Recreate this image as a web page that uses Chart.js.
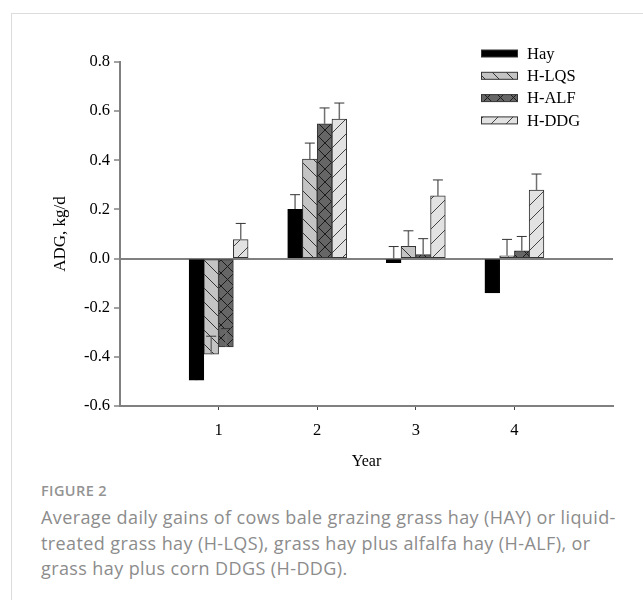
<!DOCTYPE html>
<html>
<head>
<meta charset="utf-8">
<script src="https://cdn.jsdelivr.net/npm/chart.js@4.4.1/dist/chart.umd.min.js"></script>
<style>
html, body { margin: 0; padding: 0; background: #fff; }
body { width: 643px; height: 600px; position: relative; overflow: hidden; }
#frame { position: absolute; left: 11px; top: 13px; right: 0; bottom: 0; border-left: 1px solid #dcdcdc; border-top: 1px solid #dcdcdc; }
#wrap { position: absolute; left: 0; top: 0; width: 643px; height: 480px; }
#fig { position: absolute; left: 41px; top: 481px; font: 600 14.5px 'Open Sans', sans-serif; color: #939393; letter-spacing: .4px; }
#cap { position: absolute; left: 41px; top: 505px; font: 18px/25.5px 'Open Sans', sans-serif; color: #8c8c8c; letter-spacing: .4px; white-space: nowrap; }
</style>
</head>
<body>
<div id="frame"></div>
<div id="wrap"><canvas id="chart"></canvas></div>
<div id="fig">FIGURE 2</div>
<div id="cap">Average daily gains of cows bale grazing grass hay (HAY) or liquid-<br>treated grass hay (H-LQS), grass hay plus alfalfa hay (H-ALF), or<br>grass hay plus corn DDGS (H-DDG).</div>
<script>
'use strict';

const YEARS = [1, 2, 3, 4];
const SERIES = ['Hay', 'H-LQS', 'H-ALF', 'H-DDG'];
const HAY = [-0.495, 0.20, -0.017, -0.14];
const HAY_SE = [0.06, 0.06, 0.066, 0.06];
const LQS = [-0.389, 0.405, 0.05, 0.011];
const LQS_SE = [0.073, 0.065, 0.063, 0.067];
const ALF = [-0.36, 0.548, 0.016, 0.032];
const ALF_SE = [0.075, 0.065, 0.065, 0.058];
const DDG = [0.077, 0.568, 0.255, 0.279];
const DDG_SE = [0.066, 0.065, 0.065, 0.065];
const Y_TICKS = [-0.6, -0.4, -0.2, 0, 0.2, 0.4, 0.6, 0.8];

const SERIF = "'Liberation Serif', 'Times New Roman', serif";

// hatch fills like the SigmaPlot patterns
function hatch(bg, line, kind, size) {
  const c = document.createElement('canvas');
  c.width = c.height = size;
  const g = c.getContext('2d');
  g.fillStyle = bg;
  g.fillRect(0, 0, size, size);
  g.strokeStyle = line;
  g.lineWidth = 1;
  g.beginPath();
  if (kind === 'back' || kind === 'cross') { g.moveTo(0, 0); g.lineTo(size, size); }
  if (kind === 'fwd' || kind === 'cross') { g.moveTo(0, size); g.lineTo(size, 0); }
  g.stroke();
  return g.createPattern(c, 'repeat');
}

const FILLS = [
  '#000000',
  hatch('#c4c4c4', '#333', 'back', 14),
  hatch('#666666', '#1a1a1a', 'cross', 13),
  hatch('#e2e2e2', '#444', 'fwd', 15)
];

function points(vals) {
  return YEARS.map((x, i) => ({ x: x, y: vals[i] }));
}

function drawErrors(chart, behind) {
  const ctx = chart.ctx;
  const y = chart.scales.y;
  chart.data.datasets.forEach((ds, i) => {
    if (!!ds.errBehind !== behind) return;
    const meta = chart.getDatasetMeta(i);
    meta.data.forEach((bar, j) => {
      const v = ds.data[j].y;
      const y0 = y.getPixelForValue(v);
      const y1 = y.getPixelForValue(v + ds.errors[j]);
      ctx.save();
      ctx.strokeStyle = '#707070';
      ctx.lineWidth = 1.5;
      ctx.beginPath(); ctx.moveTo(bar.x, y0); ctx.lineTo(bar.x, y1); ctx.stroke();
      ctx.strokeStyle = '#333';
      ctx.lineWidth = 1;
      ctx.beginPath(); ctx.moveTo(bar.x - 5, y1); ctx.lineTo(bar.x + 5, y1); ctx.stroke();
      ctx.restore();
    });
  });
}

const errorBars = {
  id: 'errorBars',
  beforeDatasetsDraw(chart) { drawErrors(chart, true); },
  afterDatasetsDraw(chart) { drawErrors(chart, false); }
};

const boxLegend = {
  id: 'boxLegend',
  afterDraw(chart) {
    const ctx = chart.ctx;
    ctx.save();
    ctx.font = '16.5px ' + SERIF;
    ctx.textBaseline = 'middle';
    chart.data.datasets.forEach((ds, i) => {
      const cy = 53.5 + i * 22.3;
      ctx.fillStyle = ds.backgroundColor;
      ctx.fillRect(481, cy - 3.5, 37, 7);
      ctx.strokeStyle = '#333';
      ctx.lineWidth = 1;
      ctx.strokeRect(481.5, cy - 3.5, 36, 7);
      ctx.fillStyle = '#000';
      ctx.fillText(ds.label, 527, cy + 1);
    });
    ctx.restore();
  }
};

function bars(i, vals, errs, extra) {
  return Object.assign({
    label: SERIES[i],
    data: points(vals),
    errors: errs,
    backgroundColor: FILLS[i],
    borderColor: i === 0 ? '#000' : '#333',
    borderWidth: 1,
    borderSkipped: false,
    barThickness: 14.75
  }, extra || {});
}

new Chart(document.getElementById('chart'), {
  type: 'bar',
  data: {
    datasets: [
      bars(0, HAY, HAY_SE, { errBehind: true }),
      bars(1, LQS, LQS_SE),
      bars(2, ALF, ALF_SE),
      bars(3, DDG, DDG_SE)
    ]
  },
  options: {
    responsive: true,
    maintainAspectRatio: false,
    animation: false,
    layout: { padding: { top: 62, right: 30, left: 0, bottom: 0 } },
    plugins: { legend: { display: false }, tooltip: { enabled: false } },
    scales: {
      x: {
        type: 'linear', min: 0, max: 5, offset: false,
        afterBuildTicks: s => { s.ticks = YEARS.map(v => ({ value: v })); },
        afterFit: s => { s.height = 74; },
        grid: { display: true, drawOnChartArea: false, drawTicks: true, tickLength: 4, tickColor: '#444', tickWidth: 1, offset: false },
        border: { display: true, color: '#808080', width: 2 },
        ticks: { color: '#000', font: { family: SERIF, size: 16.5 }, padding: 11, callback: v => String(v) },
        title: { display: true, text: 'Year', color: '#000', font: { family: SERIF, size: 16 }, padding: { top: 0, bottom: 9 } }
      },
      y: {
        min: -0.6, max: 0.8,
        afterBuildTicks: s => { s.ticks = Y_TICKS.map(v => ({ value: v })); },
        afterFit: s => { s.width = 120; },
        grid: {
          color: c => (c.tick && c.tick.value === 0 ? '#808080' : 'rgba(0,0,0,0)'),
          lineWidth: 2, drawTicks: true, tickLength: 6, tickColor: '#444', tickWidth: 1
        },
        border: { display: true, color: '#808080', width: 2 },
        ticks: { color: '#000', font: { family: SERIF, size: 16.5 }, padding: 4, callback: v => (Math.abs(v) < 1e-9 ? 0 : v).toFixed(1) },
        title: { display: true, text: 'ADG, kg/d', color: '#000', font: { family: SERIF, size: 17 }, padding: { top: 50, bottom: 0 } }
      }
    }
  },
  plugins: [errorBars, boxLegend]
});
</script>
</body>
</html>
